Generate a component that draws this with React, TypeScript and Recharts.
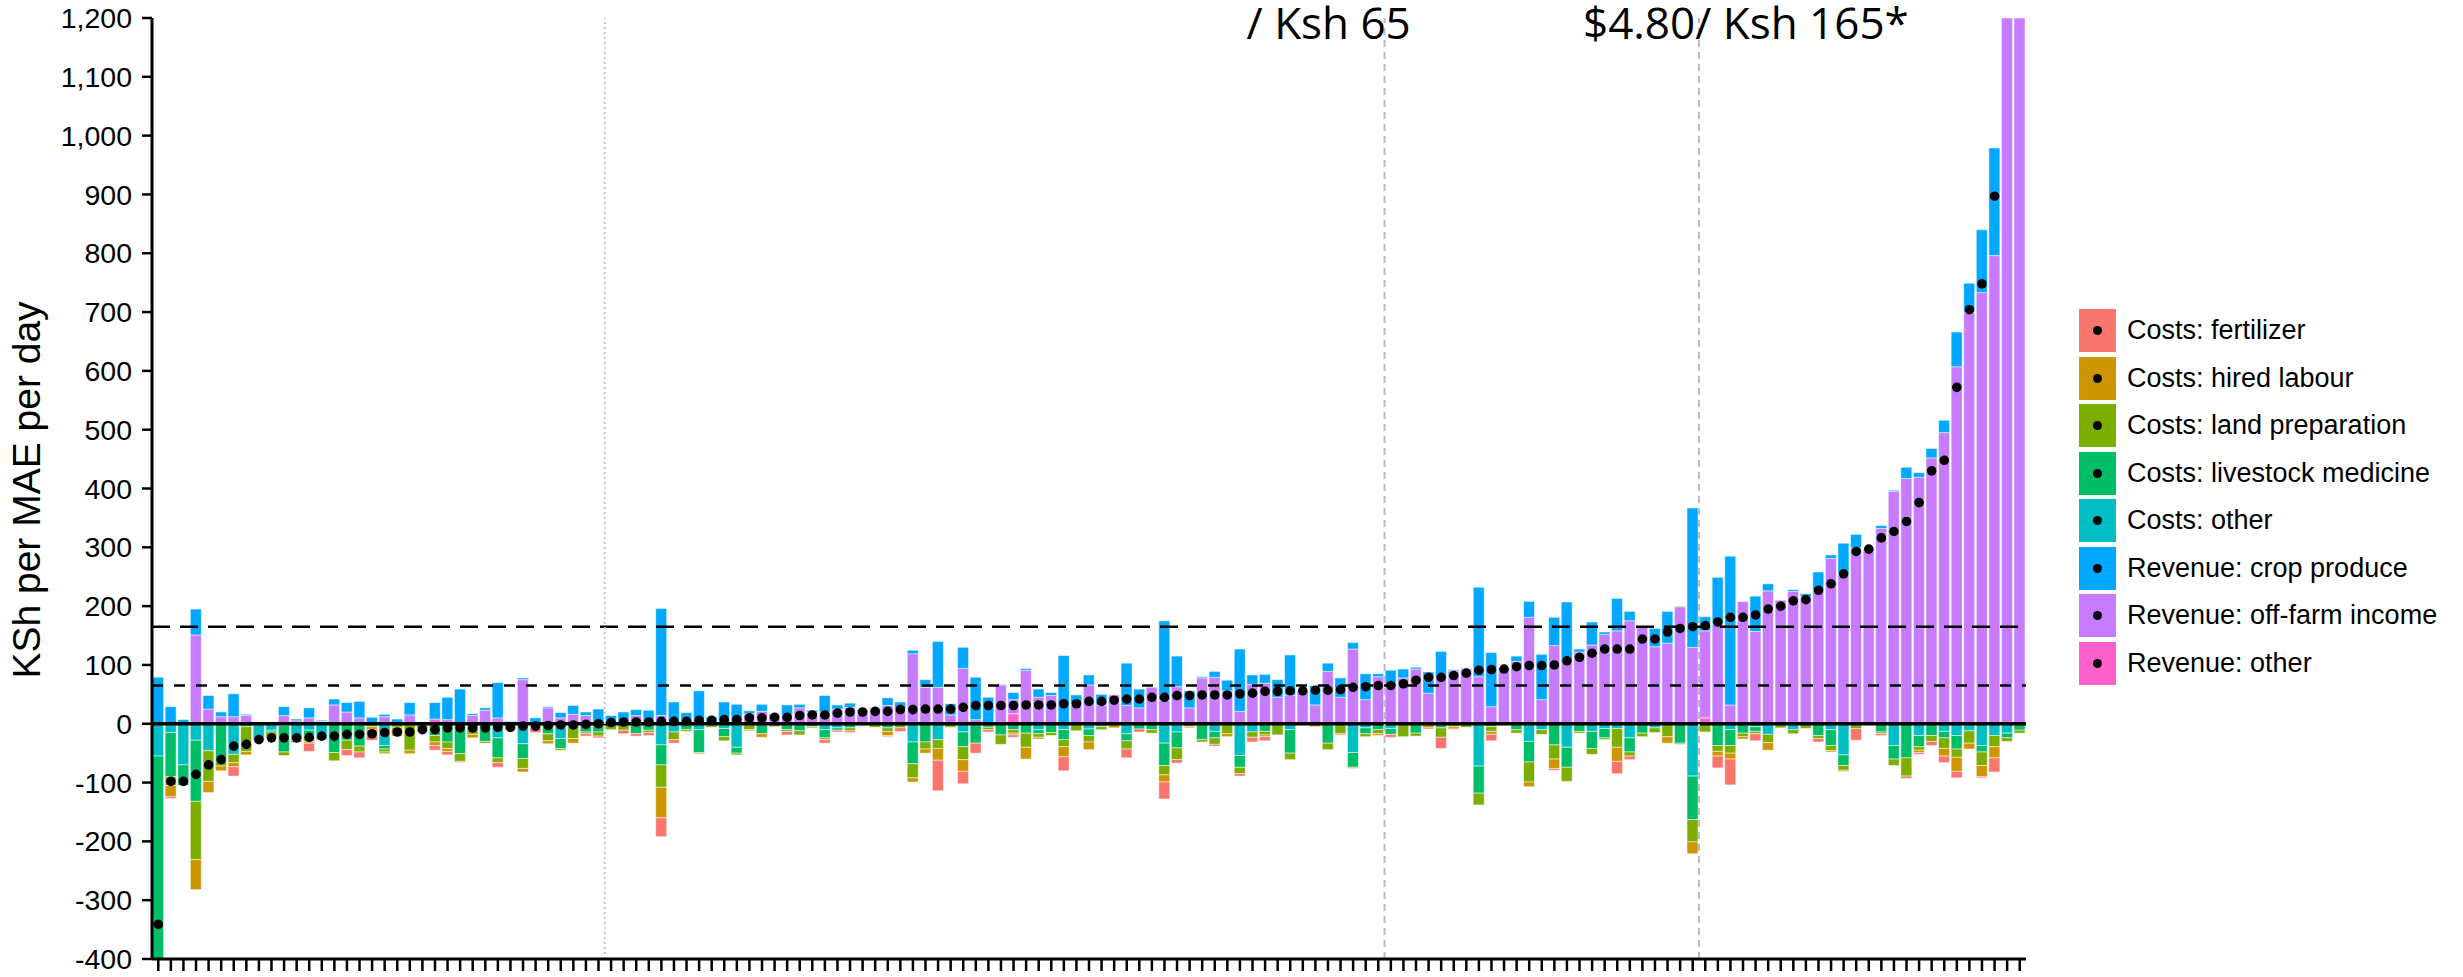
import React from 'react';
import { ComposedChart, Bar, Line, XAxis, YAxis, ReferenceLine } from 'recharts';

// households ranked by net income (left = poorest), KSh per MAE per day
// costs are stored as negative values, revenues as positive values
const fertilizer = [
  0, -3, 0, 0, 0, 0, -16, 0, 0, 0,
  0, 0, -14, 0, 0, -10, -10, -18, 0, 0,
  0, 0, -8, -6, -2, 0, 0, -8, 0, 0,
  -9, 0, 0, 0, -4, -3, 0, -6, -4, -5,
  -32, -6, 0, 0, 0, 0, 0, -2, 0, 0,
  -6, 0, 0, -6, -3, -3, 0, 0, -2, -6,
  0, 0, -52, 0, -21, -17, -4, 0, -4, 0,
  0, 0, -24, 0, 0, 0, 0, -15, -5, 0,
  -29, -6, -2, 0, -3, 0, -4, -8, -7, 0,
  0, 0, 0, 0, -2, 0, 0, 0, -5, 0,
  0, -2, -19, -1, 0, 0, -11, 0, 0, 0,
  0, -3, 0, 0, 0, 0, -21, -6, 0, 0,
  0, 0, 0, 0, -20, -44, 0, -12, 0, 0,
  0, 0, -6, 0, 0, -20, 0, -3, 0, -4,
  -3, -7, -11, -11, 0, -2, -24, 0, 0,
];

const hiredLabour = [
  0, -19, 0, -51, -19, -8, -7, -6, 0, -3,
  0, -4, -3, 0, 0, 0, 0, -5, -3, -15,
  -6, -5, -6, -5, 0, -6, 0, 0, -5, -6,
  -3, -5, 0, -8, 0, 0, 0, 0, 0, 0,
  -52, 0, 0, 0, 0, 0, 0, 0, -6, 0,
  0, 0, 0, 0, 0, 0, 0, 0, -7, 0,
  -7, -7, -20, 0, -20, 0, 0, 0, -3, -20,
  -3, 0, -17, 0, -13, 0, -7, 0, 0, 0,
  -12, 0, 0, 0, 0, -5, 0, 0, -3, 0,
  0, 0, -5, 0, 0, -2, 0, -3, 0, 0,
  0, -7, 0, -4, 0, 0, -5, 0, 0, -8,
  0, -16, 0, 0, 0, 0, -24, 0, 0, 0,
  -11, 0, -20, 0, -8, -10, -4, 0, -13, 0,
  0, 0, 0, -2, -2, 0, 0, 0, 0, 0,
  -4, 0, -13, -24, -10, -19, -19, 0, 0,
];

const landPreparation = [
  0, -15, 0, -99, -52, -8, -14, -42, 0, -8,
  -6, 0, -10, 0, -14, -16, -10, -5, -5, -6,
  -45, -8, -11, -11, -13, -13, -3, -8, -6, -17,
  -3, -12, -3, -25, -3, -7, -10, -11, 0, -4,
  -38, -13, -3, -2, -6, -7, -3, -10, 0, -5,
  -3, -7, -2, -3, 0, -5, -3, -6, -6, -7,
  -24, -12, -15, -6, -22, 0, -4, -16, -6, -24,
  -6, -5, -12, -12, -11, -5, 0, -14, 0, -6,
  -16, -20, -5, -4, -11, -17, -11, -9, -6, -19,
  -11, -2, 0, -11, -17, 0, -5, -7, 0, -22,
  -5, 0, -16, -5, -6, -20, -8, 0, -6, -34,
  -8, -24, -24, -3, -10, -3, -32, -7, -6, -8,
  -22, -2, -38, -14, -10, -13, -6, -4, -14, -7,
  -7, -8, -5, -9, -8, -8, 0, -3, -11, -31,
  -6, -10, -18, -14, -21, -23, -19, -6, -5,
];

const livestockMedicine = [
  -365, -75, -35, -104, 0, -64, 0, -5, 0, -3,
  -45, 0, -9, 0, -49, -28, -38, 0, -6, 0,
  0, 0, -20, -31, -51, -5, -30, -34, 0, -25,
  0, -17, -17, 0, -14, -14, 0, 0, -17, -11,
  -34, 0, -10, -39, 0, -14, -10, 0, -17, 0,
  -10, -12, -5, -14, -4, -7, 0, 0, -7, 0,
  -37, -31, 0, 0, -25, -33, -6, -19, -10, -16,
  -7, -15, -17, 0, -11, 0, 0, -12, -9, -10,
  -38, -27, 0, -27, -11, 0, -20, 0, -13, 0,
  -40, 0, 0, -33, 0, -25, -10, -10, -10, 0,
  -16, 0, -7, 0, 0, -46, -5, 0, -10, -35,
  0, -36, -34, -13, -29, -16, 0, -24, -16, 0,
  0, -32, -74, 0, -37, -27, -16, -8, 0, 0,
  0, 0, -20, -27, -18, 0, 0, -14, -23, -58,
  -19, -20, -11, -23, 0, -11, 0, -8, -11,
];

const costsOther = [
  -55, -15, -70, -28, -46, 0, -52, 0, -28, -11,
  -3, -28, -11, -27, 0, 0, 0, 0, -37, 0,
  0, 0, 0, 0, 0, 0, 0, -24, 0, -34,
  0, 0, -25, 0, 0, 0, 0, 0, 0, 0,
  -36, -14, 0, -10, 0, -8, -40, 0, 0, 0,
  0, 0, 0, -10, -7, 0, 0, 0, 0, 0,
  -31, 0, -27, 0, -14, 0, 0, 0, 0, 0,
  -10, 0, -10, 0, -9, -5, 0, -17, 0, 0,
  -33, -14, 0, 0, -13, 0, -54, -14, 0, 0,
  -10, 0, 0, 0, 0, -49, -7, 0, -8, 0,
  0, 0, 0, 0, 0, -72, 0, 0, 0, -30,
  -10, 0, -40, 0, -13, -8, -8, -24, 0, -7,
  0, -1, -89, 0, 0, -10, 0, -5, -18, 0,
  -10, 0, 0, -10, -53, 0, 0, 0, -37, 0,
  -20, 0, -13, -20, -12, -37, -20, -16, 0,
];

const cropProduce = [
  79, 29, 7, 44, 23, 8, 39, 2, 0, 0,
  15, 3, 17, 2, 10, 16, 28, 11, 4, 8,
  21, 3, 28, 38, 59, 3, 4, 60, 4, 3,
  10, 2, 9, 15, 6, 25, 14, 20, 10, 23,
  182, 37, 19, 56, 11, 37, 33, 5, 12, 1,
  17, 6, 3, 28, 7, 7, 0, 1, 13, 13,
  6, 13, 78, 19, 36, 72, 45, 1, 12, 3,
  14, 5, 116, 16, 17, 18, 0, 72, 32, 0,
  135, 52, 29, 2, 10, 18, 106, 16, 15, 30,
  68, 0, 33, 14, 33, 11, 44, 5, 28, 15,
  3, 36, 44, 2, 1, 152, 92, 0, 9, 27,
  77, 48, 102, 5, 39, 4, 55, 16, 2, 31,
  54, 1, 237, 24, 79, 253, 0, 60, 12, 0,
  3, 5, 30, 6, 53, 23, 0, 5, 2, 19,
  8, 16, 21, 59, 49, 107, 183, 0, 0,
];

const offFarmIncome = [
  0, 0, 0, 151, 25, 12, 12, 14, 0, 0,
  14, 5, 10, 4, 32, 20, 10, 0, 12, 0,
  15, 0, 0, 7, 0, 14, 23, 10, 0, 75,
  0, 27, 10, 16, 14, 0, 0, 0, 14, 0,
  14, 0, 0, 0, 0, 0, 0, 17, 21, 17,
  15, 27, 20, 20, 25, 28, 24, 27, 31, 24,
  119, 62, 62, 15, 94, 7, 0, 66, 24, 91,
  45, 48, 0, 33, 66, 32, 49, 31, 27, 62,
  40, 63, 27, 78, 79, 56, 21, 67, 69, 45,
  49, 56, 32, 89, 45, 127, 41, 80, 63, 78,
  93, 52, 79, 90, 94, 80, 29, 95, 106, 181,
  41, 133, 105, 122, 134, 152, 158, 175, 164, 131,
  137, 199, 130, 148, 170, 32, 208, 157, 226, 210,
  225, 216, 228, 281, 254, 299, 297, 332, 395, 417,
  419, 452, 495, 607, 700, 733, 796, 1600, 2100,
];

const revenueOther = [
  0, 0, 0, 0, 0, 0, 0, 0, 0, 0,
  0, 0, 0, 0, 0, 0, 0, 0, 0, 0,
  0, 0, 8, 0, 0, 0, 0, 0, 0, 0,
  0, 0, 0, 0, 0, 0, 0, 0, 0, 0,
  0, 0, 0, 0, 0, 0, 0, 0, 0, 0,
  0, 0, 0, 0, 0, 0, 0, 0, 0, 0,
  0, 0, 0, 0, 0, 0, 0, 0, 17, 0,
  0, 0, 0, 0, 0, 0, 0, 0, 0, 0,
  0, 0, 0, 0, 0, 0, 0, 0, 0, 0,
  0, 0, 0, 0, 0, 0, 0, 0, 0, 0,
  0, 0, 0, 0, 0, 0, 0, 0, 0, 0,
  0, 0, 0, 0, 0, 0, 0, 0, 0, 0,
  0, 0, 0, 10, 0, 0, 0, 0, 0, 0,
  0, 0, 0, 0, 0, 0, 0, 0, 0, 0,
  0, 0, 0, 0, 0, 0, 0, 0, 0,
];

const netIncome = [
  -341, -98, -98, -86, -70, -61, -38, -35, -27, -24,
  -24, -24, -23, -21, -21, -18, -18, -17, -15, -14,
  -14, -10, -10, -7, -7, -7, -7, -6, -6, -4,
  -4, -3, -2, -2, -1, 0, 2, 3, 3, 3,
  4, 4, 4, 6, 6, 7, 7, 10, 10, 11,
  11, 14, 15, 15, 18, 20, 20, 21, 21, 24,
  24, 25, 25, 25, 28, 31, 31, 31, 31, 32,
  32, 32, 34, 34, 38, 38, 40, 42, 42, 45,
  45, 48, 48, 49, 49, 49, 51, 52, 55, 55,
  56, 56, 57, 57, 58, 62, 63, 65, 65, 68,
  74, 79, 79, 82, 86, 91, 92, 93, 97, 99,
  99, 100, 107, 113, 120, 127, 127, 127, 144, 144,
  156, 162, 165, 167, 173, 181, 181, 185, 195, 200,
  209, 211, 227, 238, 255, 293, 297, 316, 327, 344,
  376, 430, 448, 572, 704, 748, 897, 1580, 2080,
];

const yTicks = [-400, -300, -200, -100, 0, 100, 200, 300, 400, 500, 600, 700, 800, 900, 1000, 1100, 1200];

// rank of the first household past each threshold (0, Ksh 65, Ksh 165)
const zeroCross = 37;
const ksh65Cross = 99;
const ksh165Cross = 124;

const data = netIncome.map((net, i) => ({
  hh: i + 1,
  fertilizer: fertilizer[i],
  hiredLabour: hiredLabour[i],
  landPreparation: landPreparation[i],
  livestockMedicine: livestockMedicine[i],
  costsOther: costsOther[i],
  cropProduce: cropProduce[i],
  offFarmIncome: offFarmIncome[i],
  revenueOther: revenueOther[i],
  net,
}));

const legendItems = [
  { label: 'Costs: fertilizer', color: '#F8766D' },
  { label: 'Costs: hired labour', color: '#CD9600' },
  { label: 'Costs: land preparation', color: '#7CAE00' },
  { label: 'Costs: livestock medicine', color: '#00BE67' },
  { label: 'Costs: other', color: '#00BFC4' },
  { label: 'Revenue: crop produce', color: '#00A9FF' },
  { label: 'Revenue: off-farm income', color: '#C77CFF' },
  { label: 'Revenue: other', color: '#FF61CC' },
];

// stacking order: first bar sits next to zero
const stackOrder = [
  { key: 'costsOther', color: '#00BFC4' },
  { key: 'livestockMedicine', color: '#00BE67' },
  { key: 'landPreparation', color: '#7CAE00' },
  { key: 'hiredLabour', color: '#CD9600' },
  { key: 'fertilizer', color: '#F8766D' },
  { key: 'revenueOther', color: '#FF61CC' },
  { key: 'offFarmIncome', color: '#C77CFF' },
  { key: 'cropProduce', color: '#00A9FF' },
];

const arial = '"Liberation Sans", Arial, sans-serif';

const topNote = (text: string, dx: number) => (props: any) => {
  const x = (props.viewBox && props.viewBox.x) || 0;
  return (
    <text x={x + dx} y={39} fontSize={44} fontFamily='"Open Sans", sans-serif' fill="#000" textAnchor="start">
      {text}
    </text>
  );
};

export default function App() {
  return (
    <div style={{ position: 'absolute', left: 0, top: 0, width: 2463, height: 977, background: '#fff', overflow: 'hidden' }}>
      <ComposedChart
        width={2463}
        height={977}
        data={data}
        stackOffset="sign"
        barCategoryGap={0.6}
        margin={{ top: 18, right: 437, bottom: 0, left: 0 }}
      >
        <XAxis
          dataKey="hh"
          type="category"
          interval={0}
          height={18}
          tickSize={12}
          tick={() => <g />}
          axisLine={{ stroke: '#000', strokeWidth: 3 }}
          tickLine={{ stroke: '#000', strokeWidth: 2.5 }}
        />
        <YAxis
          type="number"
          domain={[-400, 1200]}
          ticks={yTicks}
          interval={0}
          allowDataOverflow
          width={152}
          tickSize={10}
          tickMargin={10}
          tick={{ fontSize: 28.5, fill: '#000', fontFamily: arial }}
          axisLine={{ stroke: '#000', strokeWidth: 3 }}
          tickLine={{ stroke: '#000', strokeWidth: 2.5 }}
          tickFormatter={(v: number) => v.toLocaleString('en-US')}
          label={() => (
            <text x={40} y={490} transform="rotate(-90 40 490)" textAnchor="middle" fontSize={39} fontFamily={arial} fill="#000">
              KSh per MAE per day
            </text>
          )}
        />
        {stackOrder.map((s) => (
          <Bar
            key={s.key}
            dataKey={s.key}
            stackId="hh"
            fill={s.color}
            stroke="#ffffff"
            strokeWidth={0.5}
            isAnimationActive={false}
          />
        ))}
        <ReferenceLine y={165} stroke="#000" strokeWidth={2.5} strokeDasharray="18 10" />
        <ReferenceLine y={65} stroke="#000" strokeWidth={2.5} strokeDasharray="11 11" />
        <ReferenceLine y={0} stroke="#000" strokeWidth={3.3} />
        <ReferenceLine x={zeroCross} position="start" stroke="#c4c4c4" strokeWidth={2} strokeDasharray="2 3" />
        <ReferenceLine x={ksh65Cross} position="start" stroke="#bcbcbc" strokeWidth={2} strokeDasharray="7 5" label={topNote('/ Ksh 65', -138)} />
        <ReferenceLine x={ksh165Cross} position="start" stroke="#bcbcbc" strokeWidth={2} strokeDasharray="7 5" label={topNote('$4.80/ Ksh 165*', -116)} />
        <Line
          dataKey="net"
          stroke="none"
          dot={{ r: 4.8, fill: '#000', stroke: 'none' }}
          activeDot={false}
          legendType="none"
          isAnimationActive={false}
        />
      </ComposedChart>
      <div style={{ position: 'absolute', left: 2079, top: 309 }}>
        {legendItems.map((it, k) => (
          <div
            key={it.label}
            style={{ position: 'absolute', left: 0, top: k * 47.5, height: 43, display: 'flex', alignItems: 'center', whiteSpace: 'nowrap' }}
          >
            <div style={{ width: 37, height: 43, background: it.color, position: 'relative' }}>
              <div style={{ position: 'absolute', left: 14, top: 17, width: 9, height: 9, borderRadius: '50%', background: '#000' }} />
            </div>
            <span style={{ marginLeft: 11, fontSize: 27, fontFamily: arial, color: '#000' }}>{it.label}</span>
          </div>
        ))}
      </div>
    </div>
  );
}
